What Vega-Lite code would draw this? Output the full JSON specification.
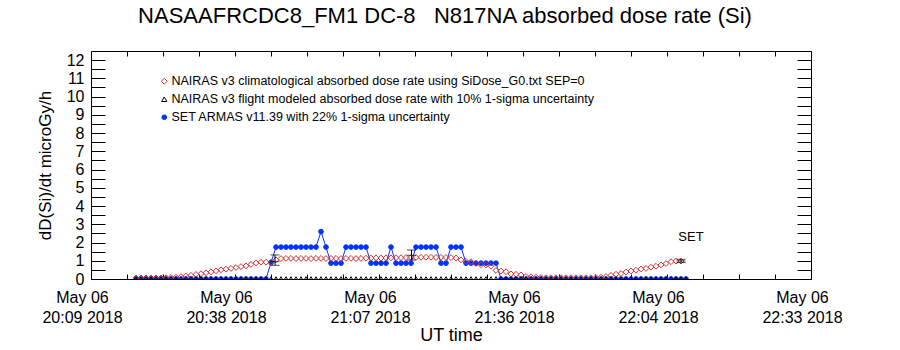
{
  "$schema": "https://vega.github.io/schema/vega-lite/v6.json",
  "width": 720,
  "height": 228,
  "autosize": "none",
  "padding": {"left": 91, "top": 51, "right": 89, "bottom": 71},
  "background": "white",
  "title": {"text": "NASAAFRCDC8_FM1 DC-8\u00a0\u00a0\u00a0N817NA absorbed dose rate (Si)", "fontSize": 22, "font": "Liberation Sans", "fontWeight": "normal", "color": "black", "baseline": "alphabetic", "offset": 6, "dx": -6},
  "config": {
    "view": {"stroke": null},
    "font": "Liberation Sans",
    "axis": {"domainColor": "black", "domainWidth": 1, "tickColor": "black", "tickWidth": 1, "labelColor": "black", "titleColor": "black", "grid": false, "labelFont": "Liberation Sans", "titleFont": "Liberation Sans", "titleFontWeight": "normal", "labelFontSize": 16, "labelOverlap": false, "labelBound": false},
    "legend": {"labelFont": "Liberation Sans", "labelFontSize": 12.5, "labelColor": "black"}
  },
  "datasets": {
    "w": [
      {"t": "2018-05-06T20:18:45", "c": 0.06, "f": 0, "a": 0},
      {"t": "2018-05-06T20:19:45", "c": 0.06, "f": 0, "a": 0},
      {"t": "2018-05-06T20:20:45", "c": 0.06, "f": 0, "a": 0},
      {"t": "2018-05-06T20:21:45", "c": 0.06, "f": 0, "a": 0},
      {"t": "2018-05-06T20:22:45", "c": 0.06, "f": 0, "a": 0},
      {"t": "2018-05-06T20:23:45", "c": 0.06, "f": 0, "a": 0},
      {"t": "2018-05-06T20:24:45", "c": 0.07, "f": 0, "a": 0},
      {"t": "2018-05-06T20:25:45", "c": 0.08, "f": 0, "a": 0},
      {"t": "2018-05-06T20:26:45", "c": 0.1, "f": 0, "a": 0},
      {"t": "2018-05-06T20:27:45", "c": 0.13, "f": 0, "a": 0},
      {"t": "2018-05-06T20:28:45", "c": 0.16, "f": 0, "a": 0},
      {"t": "2018-05-06T20:29:45", "c": 0.2, "f": 0, "a": 0},
      {"t": "2018-05-06T20:30:45", "c": 0.25, "f": 0, "a": 0},
      {"t": "2018-05-06T20:31:45", "c": 0.29, "f": 0, "a": 0},
      {"t": "2018-05-06T20:32:45", "c": 0.34, "f": 0, "a": 0},
      {"t": "2018-05-06T20:33:45", "c": 0.39, "f": 0, "a": 0},
      {"t": "2018-05-06T20:34:45", "c": 0.45, "f": 0, "a": 0},
      {"t": "2018-05-06T20:35:45", "c": 0.5, "f": 0, "a": 0},
      {"t": "2018-05-06T20:36:45", "c": 0.54, "f": 0, "a": 0},
      {"t": "2018-05-06T20:37:45", "c": 0.58, "f": 0, "a": 0},
      {"t": "2018-05-06T20:38:45", "c": 0.63, "f": 0, "a": 0},
      {"t": "2018-05-06T20:39:45", "c": 0.68, "f": 0, "a": 0},
      {"t": "2018-05-06T20:40:45", "c": 0.72, "f": 0, "a": 0},
      {"t": "2018-05-06T20:41:45", "c": 0.8, "f": 0, "a": 0},
      {"t": "2018-05-06T20:42:45", "c": 0.88, "f": 0, "a": 0},
      {"t": "2018-05-06T20:43:45", "c": 0.92, "f": 0, "a": 0},
      {"t": "2018-05-06T20:44:45", "c": 0.92, "f": 0, "a": 0},
      {"t": "2018-05-06T20:45:45", "c": 0.93, "f": 0, "a": 0.9},
      {"t": "2018-05-06T20:46:45", "c": 1.05, "f": 0, "a": 1.75},
      {"t": "2018-05-06T20:47:45", "c": 1.12, "f": 0, "a": 1.75},
      {"t": "2018-05-06T20:48:45", "c": 1.13, "f": 0, "a": 1.75},
      {"t": "2018-05-06T20:49:45", "c": 1.13, "f": 0, "a": 1.75},
      {"t": "2018-05-06T20:50:45", "c": 1.12, "f": 0, "a": 1.75},
      {"t": "2018-05-06T20:51:45", "c": 1.13, "f": 0, "a": 1.75},
      {"t": "2018-05-06T20:52:45", "c": 1.13, "f": 0, "a": 1.75},
      {"t": "2018-05-06T20:53:45", "c": 1.12, "f": 0, "a": 1.75},
      {"t": "2018-05-06T20:54:45", "c": 1.13, "f": 0, "a": 1.75},
      {"t": "2018-05-06T20:55:45", "c": 1.13, "f": 0, "a": 2.6},
      {"t": "2018-05-06T20:56:45", "c": 1.12, "f": 0, "a": 1.75},
      {"t": "2018-05-06T20:57:45", "c": 1.13, "f": 0, "a": 0.87},
      {"t": "2018-05-06T20:58:45", "c": 1.13, "f": 0, "a": 0.87},
      {"t": "2018-05-06T20:59:45", "c": 1.12, "f": 0, "a": 0.87},
      {"t": "2018-05-06T21:00:45", "c": 1.13, "f": 0, "a": 1.75},
      {"t": "2018-05-06T21:01:45", "c": 1.13, "f": 0, "a": 1.75},
      {"t": "2018-05-06T21:02:45", "c": 1.12, "f": 0, "a": 1.75},
      {"t": "2018-05-06T21:03:45", "c": 1.13, "f": 0, "a": 1.75},
      {"t": "2018-05-06T21:04:45", "c": 1.14, "f": 0, "a": 1.75},
      {"t": "2018-05-06T21:05:45", "c": 1.15, "f": 0, "a": 0.87},
      {"t": "2018-05-06T21:06:45", "c": 1.16, "f": 0, "a": 0.87},
      {"t": "2018-05-06T21:07:45", "c": 1.15, "f": 0, "a": 0.87},
      {"t": "2018-05-06T21:08:45", "c": 1.16, "f": 0, "a": 0.87},
      {"t": "2018-05-06T21:09:45", "c": 1.16, "f": 0, "a": 1.75},
      {"t": "2018-05-06T21:10:45", "c": 1.17, "f": 0, "a": 0.87},
      {"t": "2018-05-06T21:11:45", "c": 1.17, "f": 0, "a": 0.87},
      {"t": "2018-05-06T21:12:45", "c": 1.18, "f": 0, "a": 0.87},
      {"t": "2018-05-06T21:13:45", "c": 1.18, "f": 0, "a": 0.87},
      {"t": "2018-05-06T21:14:45", "c": 1.18, "f": 0, "a": 1.75},
      {"t": "2018-05-06T21:15:45", "c": 1.19, "f": 0, "a": 1.75},
      {"t": "2018-05-06T21:16:45", "c": 1.19, "f": 0, "a": 1.75},
      {"t": "2018-05-06T21:17:45", "c": 1.19, "f": 0, "a": 1.75},
      {"t": "2018-05-06T21:18:45", "c": 1.18, "f": 0, "a": 1.75},
      {"t": "2018-05-06T21:19:45", "c": 1.19, "f": 0, "a": 0.87},
      {"t": "2018-05-06T21:20:45", "c": 1.18, "f": 0, "a": 0.87},
      {"t": "2018-05-06T21:21:45", "c": 1.17, "f": 0, "a": 1.75},
      {"t": "2018-05-06T21:22:45", "c": 1.15, "f": 0, "a": 1.75},
      {"t": "2018-05-06T21:23:45", "c": 1.05, "f": 0, "a": 1.75},
      {"t": "2018-05-06T21:24:45", "c": 0.97, "f": 0, "a": 0.87},
      {"t": "2018-05-06T21:25:45", "c": 0.95, "f": 0, "a": 0.87},
      {"t": "2018-05-06T21:26:45", "c": 0.85, "f": 0, "a": 0.87},
      {"t": "2018-05-06T21:27:45", "c": 0.78, "f": 0, "a": 0.87},
      {"t": "2018-05-06T21:28:45", "c": 0.77, "f": 0, "a": 0.87},
      {"t": "2018-05-06T21:29:45", "c": 0.7, "f": 0, "a": 0.87},
      {"t": "2018-05-06T21:30:45", "c": 0.47, "f": 0, "a": 0.87},
      {"t": "2018-05-06T21:31:45", "c": 0.44, "f": 0, "a": 0},
      {"t": "2018-05-06T21:32:45", "c": 0.4, "f": 0, "a": 0},
      {"t": "2018-05-06T21:33:45", "c": 0.28, "f": 0, "a": 0},
      {"t": "2018-05-06T21:34:45", "c": 0.26, "f": 0, "a": 0},
      {"t": "2018-05-06T21:35:45", "c": 0.22, "f": 0, "a": 0},
      {"t": "2018-05-06T21:36:45", "c": 0.14, "f": 0, "a": 0},
      {"t": "2018-05-06T21:37:45", "c": 0.12, "f": 0, "a": 0},
      {"t": "2018-05-06T21:38:45", "c": 0.1, "f": 0, "a": 0},
      {"t": "2018-05-06T21:39:45", "c": 0.08, "f": 0, "a": 0},
      {"t": "2018-05-06T21:40:45", "c": 0.07, "f": 0, "a": 0},
      {"t": "2018-05-06T21:41:45", "c": 0.07, "f": 0, "a": 0},
      {"t": "2018-05-06T21:42:45", "c": 0.07, "f": 0, "a": 0},
      {"t": "2018-05-06T21:43:45", "c": 0.07, "f": 0, "a": 0},
      {"t": "2018-05-06T21:44:45", "c": 0.07, "f": 0, "a": 0},
      {"t": "2018-05-06T21:45:45", "c": 0.07, "f": 0, "a": 0},
      {"t": "2018-05-06T21:46:45", "c": 0.07, "f": 0, "a": 0},
      {"t": "2018-05-06T21:47:45", "c": 0.07, "f": 0, "a": 0},
      {"t": "2018-05-06T21:48:45", "c": 0.07, "f": 0, "a": 0},
      {"t": "2018-05-06T21:49:45", "c": 0.07, "f": 0, "a": 0},
      {"t": "2018-05-06T21:50:45", "c": 0.08, "f": 0, "a": 0},
      {"t": "2018-05-06T21:51:45", "c": 0.1, "f": 0, "a": 0},
      {"t": "2018-05-06T21:52:45", "c": 0.14, "f": 0, "a": 0},
      {"t": "2018-05-06T21:53:45", "c": 0.2, "f": 0, "a": 0},
      {"t": "2018-05-06T21:54:45", "c": 0.26, "f": 0, "a": 0},
      {"t": "2018-05-06T21:55:45", "c": 0.3, "f": 0, "a": 0},
      {"t": "2018-05-06T21:56:45", "c": 0.38, "f": 0, "a": 0},
      {"t": "2018-05-06T21:57:45", "c": 0.44, "f": 0, "a": 0},
      {"t": "2018-05-06T21:58:45", "c": 0.48, "f": 0, "a": 0},
      {"t": "2018-05-06T21:59:45", "c": 0.55, "f": 0, "a": 0},
      {"t": "2018-05-06T22:00:45", "c": 0.58, "f": 0, "a": 0},
      {"t": "2018-05-06T22:01:45", "c": 0.65, "f": 0, "a": 0},
      {"t": "2018-05-06T22:02:45", "c": 0.7, "f": 0, "a": 0},
      {"t": "2018-05-06T22:03:45", "c": 0.77, "f": 0, "a": 0},
      {"t": "2018-05-06T22:04:45", "c": 0.85, "f": 0, "a": 0},
      {"t": "2018-05-06T22:05:45", "c": 0.95, "f": 0, "a": 0},
      {"t": "2018-05-06T22:06:45", "c": 0.98, "f": 0, "a": 0},
      {"t": "2018-05-06T22:07:45", "c": 0.98, "f": 0, "a": 0},
      {"t": "2018-05-06T22:08:45", "c": null, "f": 0, "a": 0}
    ],
    "e": [
      {"t": "2018-05-06T20:46:33", "lo": 0.75, "hi": 1.32, "mid": 0.95},
      {"t": "2018-05-06T21:13:51", "lo": 1.04, "hi": 1.59, "mid": 1.3},
      {"t": "2018-05-06T22:07:45", "lo": 0.9, "hi": 1.08, "mid": 0.99}
    ],
    "lab": [
      {"t": "2018-05-06T22:09:45", "v": 2.3, "text": "SET"}
    ]
  },
  "resolve": {"axis": {"x": "independent", "y": "independent"}},
  "layer": [
    {
      "data": {"name": "w"},
      "mark": {"type": "line", "color": "#0033ff", "strokeWidth": 1, "clip": true},
      "encoding": {
        "x": {"field": "t", "type": "temporal",
          "scale": {"domain": [{"year": 2018, "month": 5, "date": 6, "hours": 20, "minutes": 9, "seconds": 45}, {"year": 2018, "month": 5, "date": 6, "hours": 22, "minutes": 33, "seconds": 45}]},
          "axis": {"orient": "bottom", "title": "UT time", "titleFontSize": 18, "titlePadding": 1, "tickSize": -5, "labelPadding": 15, "labelBaseline": "top", "labelLineHeight": 20, "labelOffset": -9, "labelFlush": false, "labelFontSize": 16,
            "values": [
              {"year": 2018, "month": 5, "date": 6, "hours": 20, "minutes": 9, "seconds": 45},
              {"year": 2018, "month": 5, "date": 6, "hours": 20, "minutes": 16, "seconds": 57},
              {"year": 2018, "month": 5, "date": 6, "hours": 20, "minutes": 24, "seconds": 9},
              {"year": 2018, "month": 5, "date": 6, "hours": 20, "minutes": 31, "seconds": 21},
              {"year": 2018, "month": 5, "date": 6, "hours": 20, "minutes": 38, "seconds": 33},
              {"year": 2018, "month": 5, "date": 6, "hours": 20, "minutes": 45, "seconds": 45},
              {"year": 2018, "month": 5, "date": 6, "hours": 20, "minutes": 52, "seconds": 57},
              {"year": 2018, "month": 5, "date": 6, "hours": 21, "minutes": 0, "seconds": 9},
              {"year": 2018, "month": 5, "date": 6, "hours": 21, "minutes": 7, "seconds": 21},
              {"year": 2018, "month": 5, "date": 6, "hours": 21, "minutes": 14, "seconds": 33},
              {"year": 2018, "month": 5, "date": 6, "hours": 21, "minutes": 21, "seconds": 45},
              {"year": 2018, "month": 5, "date": 6, "hours": 21, "minutes": 28, "seconds": 57},
              {"year": 2018, "month": 5, "date": 6, "hours": 21, "minutes": 36, "seconds": 9},
              {"year": 2018, "month": 5, "date": 6, "hours": 21, "minutes": 43, "seconds": 21},
              {"year": 2018, "month": 5, "date": 6, "hours": 21, "minutes": 50, "seconds": 33},
              {"year": 2018, "month": 5, "date": 6, "hours": 21, "minutes": 57, "seconds": 45},
              {"year": 2018, "month": 5, "date": 6, "hours": 22, "minutes": 4, "seconds": 57},
              {"year": 2018, "month": 5, "date": 6, "hours": 22, "minutes": 12, "seconds": 9},
              {"year": 2018, "month": 5, "date": 6, "hours": 22, "minutes": 19, "seconds": 21},
              {"year": 2018, "month": 5, "date": 6, "hours": 22, "minutes": 26, "seconds": 33},
              {"year": 2018, "month": 5, "date": 6, "hours": 22, "minutes": 33, "seconds": 45}
            ],
            "labelExpr": "round(datum.index * 20) % 4 == 0 ? ['May 06', timeFormat(datum.value, '%H:%M') + ' 2018'] : ''"}},
        "y": {"field": "a", "type": "quantitative",
          "scale": {"domain": [0, 12.5], "nice": false, "zero": false},
          "axis": {"orient": "left", "title": "dD(Si)/dt microGy/h", "titleFontSize": 17, "titlePadding": 12, "tickSize": -14, "labelPadding": 21, "labelFlush": false, "labelFontSize": 16,
            "values": [0, 0.5, 1, 1.5, 2, 2.5, 3, 3.5, 4, 4.5, 5, 5.5, 6, 6.5, 7, 7.5, 8, 8.5, 9, 9.5, 10, 10.5, 11, 11.5, 12],
            "labelExpr": "datum.value % 1 == 0 ? format(datum.value, 'd') : ''"}}
      }
    },
    {
      "data": {"name": "w"},
      "transform": [{"fold": ["c", "f", "a"], "as": ["s", "v"]}],
      "mark": {"type": "point", "strokeWidth": 1, "opacity": 1, "clip": true},
      "encoding": {
        "x": {"field": "t", "type": "temporal",
          "scale": {"domain": [{"year": 2018, "month": 5, "date": 6, "hours": 20, "minutes": 9, "seconds": 45}, {"year": 2018, "month": 5, "date": 6, "hours": 22, "minutes": 33, "seconds": 45}]},
          "axis": {"orient": "top", "title": null, "labels": false, "tickSize": -5,
            "values": [
              {"year": 2018, "month": 5, "date": 6, "hours": 20, "minutes": 9, "seconds": 45},
              {"year": 2018, "month": 5, "date": 6, "hours": 20, "minutes": 16, "seconds": 57},
              {"year": 2018, "month": 5, "date": 6, "hours": 20, "minutes": 24, "seconds": 9},
              {"year": 2018, "month": 5, "date": 6, "hours": 20, "minutes": 31, "seconds": 21},
              {"year": 2018, "month": 5, "date": 6, "hours": 20, "minutes": 38, "seconds": 33},
              {"year": 2018, "month": 5, "date": 6, "hours": 20, "minutes": 45, "seconds": 45},
              {"year": 2018, "month": 5, "date": 6, "hours": 20, "minutes": 52, "seconds": 57},
              {"year": 2018, "month": 5, "date": 6, "hours": 21, "minutes": 0, "seconds": 9},
              {"year": 2018, "month": 5, "date": 6, "hours": 21, "minutes": 7, "seconds": 21},
              {"year": 2018, "month": 5, "date": 6, "hours": 21, "minutes": 14, "seconds": 33},
              {"year": 2018, "month": 5, "date": 6, "hours": 21, "minutes": 21, "seconds": 45},
              {"year": 2018, "month": 5, "date": 6, "hours": 21, "minutes": 28, "seconds": 57},
              {"year": 2018, "month": 5, "date": 6, "hours": 21, "minutes": 36, "seconds": 9},
              {"year": 2018, "month": 5, "date": 6, "hours": 21, "minutes": 43, "seconds": 21},
              {"year": 2018, "month": 5, "date": 6, "hours": 21, "minutes": 50, "seconds": 33},
              {"year": 2018, "month": 5, "date": 6, "hours": 21, "minutes": 57, "seconds": 45},
              {"year": 2018, "month": 5, "date": 6, "hours": 22, "minutes": 4, "seconds": 57},
              {"year": 2018, "month": 5, "date": 6, "hours": 22, "minutes": 12, "seconds": 9},
              {"year": 2018, "month": 5, "date": 6, "hours": 22, "minutes": 19, "seconds": 21},
              {"year": 2018, "month": 5, "date": 6, "hours": 22, "minutes": 26, "seconds": 33},
              {"year": 2018, "month": 5, "date": 6, "hours": 22, "minutes": 33, "seconds": 45}
            ]}},
        "y": {"field": "v", "type": "quantitative",
          "scale": {"domain": [0, 12.5], "nice": false, "zero": false},
          "axis": {"orient": "right", "title": null, "labels": false, "tickSize": -14,
            "values": [0, 0.5, 1, 1.5, 2, 2.5, 3, 3.5, 4, 4.5, 5, 5.5, 6, 6.5, 7, 7.5, 8, 8.5, 9, 9.5, 10, 10.5, 11, 11.5, 12]}},
        "shape": {"field": "s", "type": "nominal",
          "scale": {"domain": ["c", "f", "a"], "range": ["diamond", "triangle-up", "circle"]},
          "legend": {"orient": "none", "legendX": 67, "legendY": 24, "title": null, "labelLimit": 700, "labelFontSize": 12.5, "labelOffset": 1, "rowPadding": 5, "symbolStrokeWidth": 1, "padding": 0,
            "labelExpr": "datum.value == 'c' ? 'NAIRAS v3 climatological absorbed dose rate using SiDose_G0.txt SEP=0' : datum.value == 'f' ? 'NAIRAS v3 flight modeled absorbed dose rate with 10% 1-sigma uncertainty' : 'SET ARMAS v11.39 with 22% 1-sigma uncertainty'"}},
        "stroke": {"field": "s", "type": "nominal",
          "scale": {"domain": ["c", "f", "a"], "range": ["#cc3333", "#000000", "#0033ff"]}},
        "fill": {"field": "s", "type": "nominal",
          "scale": {"domain": ["c", "f", "a"], "range": ["transparent", "transparent", "#0033ff"]}},
        "size": {"field": "s", "type": "nominal",
          "scale": {"domain": ["c", "f", "a"], "range": [34, 22, 66]}},
        "order": {"field": "s", "sort": "ascending"}
      }
    },
    {
      "data": {"name": "e"},
      "mark": {"type": "errorbar", "color": "black", "ticks": {"size": 9, "thickness": 1, "color": "black"}, "rule": {"strokeWidth": 1}},
      "encoding": {
        "x": {"field": "t", "type": "temporal", "axis": null,
          "scale": {"domain": [{"year": 2018, "month": 5, "date": 6, "hours": 20, "minutes": 9, "seconds": 45}, {"year": 2018, "month": 5, "date": 6, "hours": 22, "minutes": 33, "seconds": 45}]}},
        "y": {"field": "lo", "type": "quantitative", "axis": null, "scale": {"domain": [0, 12.5], "nice": false, "zero": false}},
        "y2": {"field": "hi"}
      }
    },
    {
      "data": {"name": "e"},
      "mark": {"type": "tick", "orient": "horizontal", "color": "black", "size": 9, "thickness": 1},
      "encoding": {
        "x": {"field": "t", "type": "temporal", "axis": null,
          "scale": {"domain": [{"year": 2018, "month": 5, "date": 6, "hours": 20, "minutes": 9, "seconds": 45}, {"year": 2018, "month": 5, "date": 6, "hours": 22, "minutes": 33, "seconds": 45}]}},
        "y": {"field": "mid", "type": "quantitative", "axis": null, "scale": {"domain": [0, 12.5], "nice": false, "zero": false}}
      }
    },
    {
      "data": {"name": "lab"},
      "mark": {"type": "text", "fontSize": 13, "font": "Liberation Sans", "color": "black", "align": "center", "baseline": "middle"},
      "encoding": {
        "x": {"field": "t", "type": "temporal", "axis": null,
          "scale": {"domain": [{"year": 2018, "month": 5, "date": 6, "hours": 20, "minutes": 9, "seconds": 45}, {"year": 2018, "month": 5, "date": 6, "hours": 22, "minutes": 33, "seconds": 45}]}},
        "y": {"field": "v", "type": "quantitative", "axis": null, "scale": {"domain": [0, 12.5], "nice": false, "zero": false}},
        "text": {"field": "text"}
      }
    }
  ]
}
